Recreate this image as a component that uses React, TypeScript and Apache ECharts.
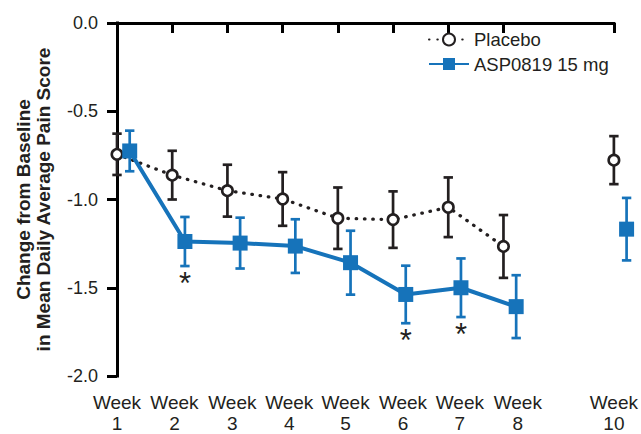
import React, { useEffect, useRef } from "react";
import * as echarts from "echarts";

// ---- data ----
const weeks = [1, 2, 3, 4, 5, 6, 7, 8, 10];
const weekLabels = ["Week\n1", "Week\n2", "Week\n3", "Week\n4", "Week\n5", "Week\n6", "Week\n7", "Week\n8", "Week\n10"];
const placeboMean = [-0.744, -0.862, -0.95, -0.997, -1.106, -1.114, -1.044, -1.266, -0.777];
const placeboSE = [0.117, 0.138, 0.147, 0.152, 0.174, 0.16, 0.169, 0.178, 0.136];
const aspMean = [-0.725, -1.238, -1.247, -1.264, -1.358, -1.538, -1.5, -1.607, -1.168];
const aspSE = [0.115, 0.139, 0.144, 0.152, 0.181, 0.163, 0.166, 0.178, 0.177];
const aspSignificant = [0, 1, 0, 0, 0, 1, 1, 0, 0];
const seriesNames = ["Placebo", "ASP0819 15 mg"];

// ---- layout / style constants ----
const FONT = "'Liberation Sans', Arial, Helvetica, sans-serif";
const INK = "#231f20";
const BLUE = "#1673ba";
const ASP_SHIFT = 0.23; // horizontal dodge of the active arm, in weeks
const LABEL_POS = [1, 2.04, 3.09, 4.12, 5.14, 6.18, 7.21, 8.26, 10];

function lineData(xs: number[], ys: number[]) {
  const out: any[] = [];
  xs.forEach((x, i) => {
    if (i > 0 && x - xs[i - 1] > 1.5) out.push([x - 1, "-"]);
    out.push([x, ys[i]]);
  });
  return out;
}

function errRender(color: string) {
  return (params: any, api: any) => {
    const x = api.value(0);
    const m = api.value(1);
    const se = api.value(2);
    const sig = api.value(3);
    const top = api.coord([x, m + se]);
    const bot = api.coord([x, m - se]);
    const style = { stroke: color, lineWidth: 2.7, fill: null };
    const hw = 4.7;
    const children: any[] = [
      { type: "line", shape: { x1: top[0], y1: top[1], x2: bot[0], y2: bot[1] }, style },
      { type: "line", shape: { x1: top[0] - hw, y1: top[1], x2: top[0] + hw, y2: top[1] }, style },
      { type: "line", shape: { x1: bot[0] - hw, y1: bot[1], x2: bot[0] + hw, y2: bot[1] }, style },
    ];
    if (sig) {
      children.push({
        type: "text",
        x: bot[0],
        y: bot[1] + 17,
        style: {
          text: "*",
          fontSize: 31,
          fontFamily: FONT,
          fill: INK,
          align: "center",
          verticalAlign: "middle",
          textAlign: "center",
          textVerticalAlign: "middle",
        },
      });
    }
    return { type: "group", children };
  };
}

export default function App() {
  const ref = useRef<HTMLDivElement>(null);

  useEffect(() => {
    document.body.style.margin = "0";
    if (!ref.current) return;
    const chart = echarts.init(ref.current, null, { renderer: "svg" });

    const placeboX = weeks;
    const aspX = weeks.map((w) => w + ASP_SHIFT);

    chart.setOption({
      animation: false,
      backgroundColor: "#fff",
      textStyle: { fontFamily: FONT, color: INK },
      grid: { left: 117, right: 26.7, top: 23, bottom: 56, containLabel: false },
      legend: {
        orient: "vertical",
        left: 423,
        top: 24.5,
        itemWidth: 40,
        itemHeight: 15,
        itemGap: 4.5,
        data: seriesNames,
        textStyle: { fontSize: 18.5, lineHeight: 20, color: INK, fontFamily: FONT },
      },
      xAxis: {
        type: "value",
        min: 1,
        max: 10,
        axisLine: { show: true, lineStyle: { color: "#000", width: 3, cap: "square" } },
        axisTick: { show: true, customValues: weeks, length: 10, lineStyle: { color: "#000", width: 3 } },
        axisLabel: {
          customValues: LABEL_POS,
          formatter: (v: number) => {
            let best = 0;
            LABEL_POS.forEach((p, i) => {
              if (Math.abs(p - v) < Math.abs(LABEL_POS[best] - v)) best = i;
            });
            return weekLabels[best];
          },
          fontSize: 19,
          lineHeight: 21,
          color: INK,
          fontFamily: FONT,
          margin: 16,
        },
        splitLine: { show: false },
      },
      yAxis: {
        type: "value",
        min: -2,
        max: 0,
        interval: 0.5,
        name: "Change from Baseline\nin Mean Daily Average Pain Score",
        nameLocation: "middle",
        nameRotate: 90,
        nameGap: 64,
        nameTextStyle: { fontSize: 19, fontWeight: "bold", lineHeight: 20, color: INK, fontFamily: FONT },
        axisLine: { show: true, lineStyle: { color: "#000", width: 3, cap: "square" } },
        axisTick: { show: true, length: 10, lineStyle: { color: "#000", width: 3 } },
        axisLabel: {
          formatter: (v: number) => v.toFixed(1),
          fontSize: 18,
          color: INK,
          fontFamily: FONT,
          margin: 19,
        },
        splitLine: { show: false },
      },
      series: [
        {
          name: "placeboErr",
          type: "custom",
          renderItem: errRender(INK),
          data: weeks.map((w, i) => [placeboX[i], placeboMean[i], placeboSE[i], 0]),
          encode: { x: 0, y: 1 },
          clip: false,
          z: 2,
          silent: true,
        },
        {
          name: seriesNames[0],
          type: "line",
          data: lineData(placeboX, placeboMean),
          connectNulls: false,
          symbol: "circle",
          symbolSize: 10.5,
          showAllSymbol: true,
          clip: false,
          itemStyle: { color: "#fff", borderColor: INK, borderWidth: 2.6 },
          lineStyle: { color: INK, width: 3.3, type: [0.5, 7.8], cap: "round" },
          z: 3,
        },
        {
          name: "aspErr",
          type: "custom",
          renderItem: errRender(BLUE),
          data: weeks.map((w, i) => [aspX[i], aspMean[i], aspSE[i], aspSignificant[i]]),
          encode: { x: 0, y: 1 },
          clip: false,
          z: 4,
          silent: true,
        },
        {
          name: seriesNames[1],
          type: "line",
          data: lineData(aspX, aspMean),
          connectNulls: false,
          symbol: "rect",
          symbolSize: 15,
          showAllSymbol: true,
          clip: false,
          itemStyle: { color: BLUE },
          lineStyle: { color: BLUE, width: 4 },
          z: 5,
        },
      ],
    });

    return () => chart.dispose();
  }, []);

  return <div ref={ref} style={{ width: 641, height: 434 }} />;
}
